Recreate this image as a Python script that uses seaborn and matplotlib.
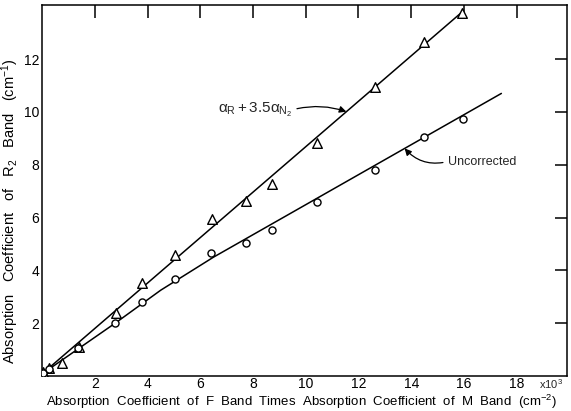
import matplotlib
matplotlib.use("Agg")
import matplotlib.pyplot as plt
import seaborn as sns
import numpy as np

# data (x in units of 10^3 cm^-2, y in cm^-1)
tri_x = [0.05, 0.28, 0.76, 1.41, 2.80, 3.81, 5.04, 6.43, 7.73, 8.74, 10.44, 12.64, 14.48, 15.93]
tri_y = [0.15, 0.30, 0.50, 1.10, 2.37, 3.51, 4.58, 5.95, 6.64, 7.27, 8.84, 10.96, 12.63, 13.74]
circ_x = [0.03, 0.28, 1.38, 2.76, 3.81, 5.04, 6.40, 7.72, 8.74, 10.44, 12.63, 14.48, 15.98]
circ_y = [0.12, 0.25, 1.05, 2.02, 2.81, 3.66, 4.65, 5.03, 5.53, 6.59, 7.80, 9.06, 9.73]

# hand-drawn fit lines
tri_line_x = [0.0, 15.95]
tri_line_y = [0.08, 13.80]
circ_line_x = [0.0, 1.4, 2.8, 4.5, 6.5, 17.42]
circ_line_y = [0.08, 1.05, 2.02, 3.25, 4.50, 10.70]

xticks = [2, 4, 6, 8, 10, 12, 14, 16, 18]
yticks = [2, 4, 6, 8, 10, 12]

sns.set_theme(style="white")
plt.rcParams['font.family'] = ['Liberation Sans', 'DejaVu Sans']
plt.rcParams['mathtext.fontset'] = 'custom'
plt.rcParams['mathtext.rm'] = 'Liberation Sans'
plt.rcParams['mathtext.it'] = 'Liberation Sans'
plt.rcParams['mathtext.bf'] = 'Liberation Sans:bold'

fig = plt.figure(figsize=(5.71, 4.11), dpi=100)
ax = fig.add_axes([0.0736, 0.085, 0.919, 0.903])

sns.lineplot(x=tri_line_x, y=tri_line_y, sort=False, estimator=None,
             color='black', linewidth=1.1, ax=ax)
sns.lineplot(x=circ_line_x, y=circ_line_y, sort=False, estimator=None,
             color='black', linewidth=1.1, ax=ax)

sns.scatterplot(x=tri_x, y=tri_y, marker='^', s=48, color='white',
                edgecolor='black', linewidth=1.0, zorder=3, ax=ax)
sns.scatterplot(x=circ_x, y=circ_y, marker='o', s=26, color='white',
                edgecolor='black', linewidth=1.0, zorder=3, ax=ax)

ax.set_xlim(0, 19.9)
ax.set_ylim(0, 14.05)
ax.set_xticks(xticks)
ax.set_yticks(yticks)
ax.set_xticklabels([str(t) for t in xticks])
ax.set_yticklabels([str(t) for t in yticks])
ax.tick_params(direction='in', length=9, width=1.1, top=True, right=True,
               labelsize=10, colors='black')
ax.tick_params(axis='y', pad=2)
ax.tick_params(axis='x', pad=1)
for sp in ax.spines.values():
    sp.set_visible(True)
    sp.set_color('black')
    sp.set_linewidth(1.1)

ax.set_xlabel('Absorption  Coefficient  of  F  Band  Times  Absorption  Coefficient  of  M  Band  (cm$^{-2}$)',
              fontsize=9.5, color='black')
ax.xaxis.set_label_coords(0.495, -0.046)
ax.set_ylabel('Absorption   Coefficient   of   R$_2$   Band   (cm$^{-1}$)',
              fontsize=10.5, color='black')
ax.yaxis.set_label_coords(-0.04, 0.445)
ax.annotate(r'x10$^3$', xy=(18.85, 0), xytext=(0, -1), textcoords='offset points',
            fontsize=8, va='top', ha='left')

ax.annotate(r'$\alpha_R + 3.5\alpha_{N_2}$', xy=(11.54, 10.01), xytext=(6.67, 10.08),
            fontsize=11, va='center', ha='left',
            arrowprops=dict(arrowstyle='-|>', color='black', lw=0.9, relpos=(1, 0.5),
                            connectionstyle='arc3,rad=-0.15', mutation_scale=10,
                            shrinkA=1, shrinkB=0))
ax.annotate('Uncorrected', xy=(13.75, 8.62), xytext=(15.38, 8.12),
            fontsize=9, va='center', ha='left',
            arrowprops=dict(arrowstyle='-|>', color='black', lw=0.9, relpos=(0, 0.5),
                            connectionstyle='arc3,rad=-0.3', mutation_scale=10,
                            shrinkA=1, shrinkB=0))

fig.savefig('out.png', dpi=100)
